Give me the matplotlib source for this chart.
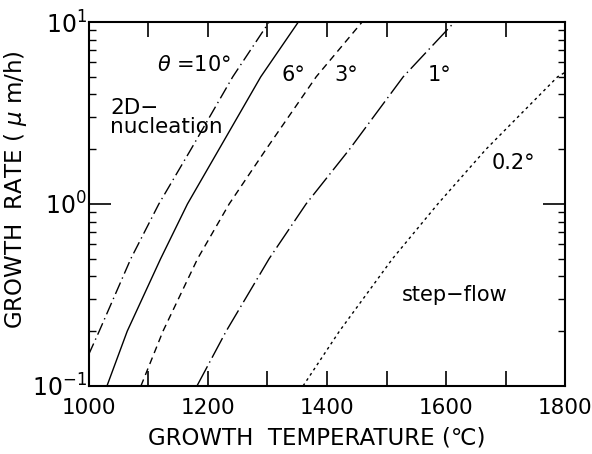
import numpy as np
import matplotlib
matplotlib.use("Agg")
import matplotlib.pyplot as plt

plt.rcParams['font.family'] = ['DejaVu Sans']

# growth rate (um/h) vs temperature (C)
rate = [0.1, 0.2, 0.5, 1, 2, 5, 10]

temp_10 = [1000, 1018, 1071, 1118, 1172, 1242, 1303]
rate_10 = [0.148, 0.2, 0.5, 1, 2, 5, 10]
temp_6 = [1031, 1065, 1121, 1166, 1219, 1289, 1352]
temp_3 = [1088, 1125, 1183, 1236, 1298, 1382, 1459]
temp_1 = [1182, 1231, 1303, 1365, 1438, 1528, 1614]
temp_02 = [1360, 1421, 1510, 1586, 1667, 1787, 1800]
rate_02 = [0.1, 0.2, 0.5, 1, 2, 5, 5.3]

xticks = [1000, 1100, 1200, 1300, 1400, 1500, 1600, 1700, 1800]
xticklabels = ['1000', '', '1200', '', '1400', '', '1600', '', '1800']
yticks = [0.1, 1, 10]
yticklabels = [r'$\mathregular{10^{-1}}$', r'$\mathregular{10^{0}}$', r'$\mathregular{10^{1}}$']

fig = plt.figure(figsize=(5.92, 4.54), dpi=100)
ax = fig.add_axes([0.1495, 0.150, 0.8055, 0.8015])

lw = 1.0
ax.plot(temp_10, rate_10, color='black', lw=lw, linestyle=(0, (9, 3, 1, 3)))
ax.plot(temp_6, rate, color='black', lw=lw, linestyle='-')
ax.plot(temp_3, rate, color='black', lw=lw, linestyle=(0, (5, 3.5)))
ax.plot(temp_1, rate, color='black', lw=lw, linestyle=(0, (16, 3, 1, 3)))
ax.plot(temp_02, rate_02, color='black', lw=lw, linestyle=(0, (2, 2.5)))

ax.set_yscale('log')
ax.set_xlim(1000, 1800)
ax.set_ylim(0.1, 10)

ax.set_xticks(xticks)
ax.set_xticklabels(xticklabels, fontsize=15.5)
ax.set_yticks(yticks)
ax.set_yticklabels(yticklabels, fontsize=17)
ax.tick_params(axis='x', which='major', direction='in', top=True, length=11, width=1.2, pad=9)
ax.tick_params(axis='y', which='major', direction='in', right=True, length=16, width=1.2, pad=1)
ax.tick_params(axis='y', which='minor', direction='in', right=True, length=5, width=1.0)
for s in ax.spines.values():
    s.set_linewidth(1.5)

fs = 15
ax.text(1115, 5.8, '$\\theta$ =10\u00b0', fontsize=fs, ha='left', va='center')
ax.text(1324, 5.1, '6\u00b0', fontsize=fs, ha='left', va='center')
ax.text(1412, 5.1, '3\u00b0', fontsize=fs, ha='left', va='center')
ax.text(1569, 5.1, '1\u00b0', fontsize=fs, ha='left', va='center')
ax.text(1676, 1.68, '0.2\u00b0', fontsize=fs, ha='left', va='center')
ax.text(1036, 3.0, '2D\u2212\nnucleation', fontsize=15.5, ha='left', va='center', linespacing=0.95)
ax.text(1525, 0.316, 'step\u2212flow', fontsize=fs, ha='left', va='center')

ax.set_xlabel('GROWTH  TEMPERATURE (\u2103)', fontsize=16.5)
ax.set_ylabel('GROWTH  RATE ( $\\mu$ m/h)', fontsize=16.5)
ax.xaxis.set_label_coords(0.479, -0.112)
ax.yaxis.set_label_coords(-0.125, 0.54)

fig.savefig('out.png', dpi=100)
